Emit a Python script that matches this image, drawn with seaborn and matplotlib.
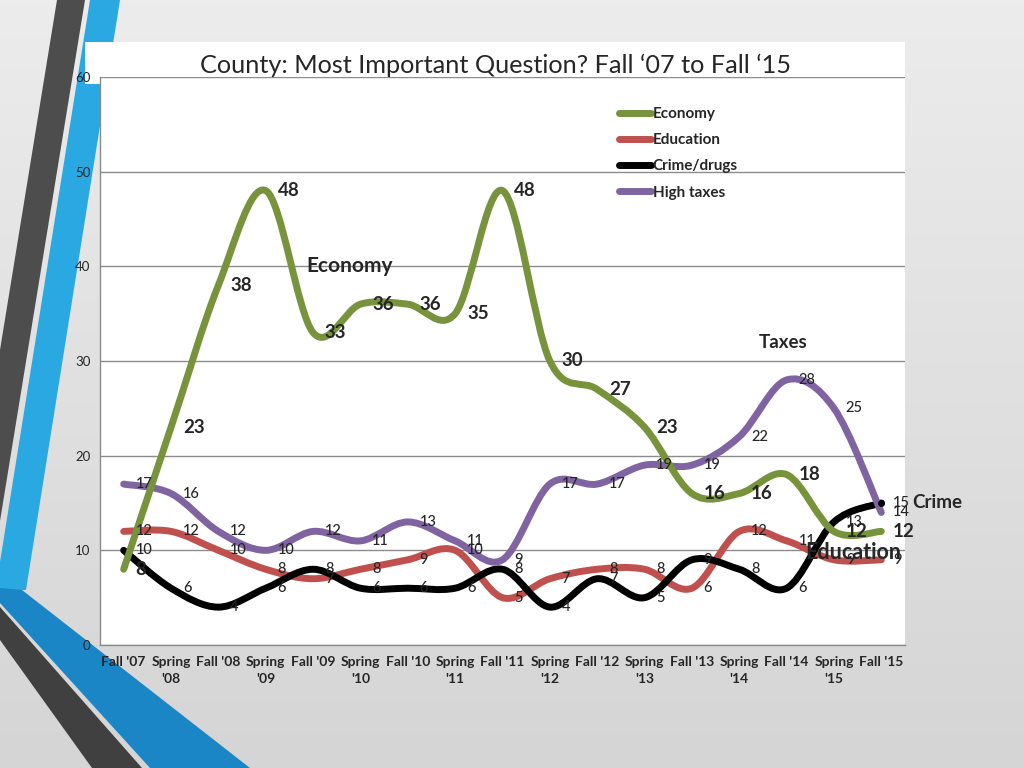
import numpy as np
import matplotlib
matplotlib.use("Agg")
import matplotlib.pyplot as plt
from matplotlib.path import Path
from matplotlib.patches import PathPatch, Polygon, Rectangle
from matplotlib.lines import Line2D
import seaborn as sns

# Data
periods = ["Fall '07", "Spring\n'08", "Fall '08", "Spring\n'09", "Fall '09", "Spring\n'10",
           "Fall '10", "Spring\n'11", "Fall '11", "Spring\n'12", "Fall '12", "Spring\n'13",
           "Fall '13", "Spring\n'14", "Fall '14", "Spring\n'15", "Fall '15"]
economy = [8, 23, 38, 48, 33, 36, 36, 35, 48, 30, 27, 23, 16, 16, 18, 12, 12]
education = [12, 12, 10, 8, 7, 8, 9, 10, 5, 7, 8, 8, 6, 12, 11, 9, 9]
crime = [10, 6, 4, 6, 8, 6, 6, 6, 8, 4, 7, 5, 9, 8, 6, 13, 15]
taxes = [17, 16, 12, 10, 12, 11, 13, 11, 9, 17, 17, 19, 19, 22, 28, 25, 14]

series_names = ["Economy", "Education", "Crime/drugs", "High taxes"]
series_colors = ["#77933C", "#C0504D", "#000000", "#8064A2"]

sns.set_theme(style="white")
plt.rcParams['font.family'] = ['Lato', 'DejaVu Sans']

W, H = 1024, 768
fig = plt.figure(figsize=(W / 100, H / 100), dpi=100)


def fx(x):
    return x / W


def fy(y):
    return 1 - y / H


# slide background
bg = fig.add_axes([0, 0, 1, 1], zorder=-10)
grad = np.linspace(0, 1, 256)[:, None] * np.ones((1, 2))
bg.imshow(grad, cmap=matplotlib.colors.LinearSegmentedColormap.from_list("g", ["#ececec", "#d5d5d5"]),
          aspect="auto", extent=[0, 1, 0, 1])
bg.set_xlim(0, 1)
bg.set_ylim(0, 1)
bg.axis("off")


def poly(pts, color):
    bg.add_patch(Polygon([(fx(a), fy(b)) for a, b in pts], closed=True, color=color, lw=0))


poly([(57, 0), (85, 0), (0, 521), (0, 350)], "#4d4d4d")
poly([(90, 0), (120, 0), (26, 590), (0, 590), (0, 562)], "#2aa8e2")
poly([(0, 588), (22, 590), (250, 768), (150, 768), (0, 603)], "#1a86c6")
poly([(0, 607), (142, 768), (92, 768), (0, 640)], "#404040")
bg.add_patch(Rectangle((fx(85), fy(84)), fx(905) - fx(85), fy(42) - fy(84), color="white", lw=0))

# plot area
ax = fig.add_axes([fx(100), fy(645), fx(905) - fx(100), fy(77) - fy(645)])
ax.set_facecolor("white")
ax.set_xlim(-0.5, len(periods) - 0.5)
ax.set_ylim(0, 60)
ax.set_yticks(range(0, 61, 10))
ax.yaxis.grid(True, color="#8c8c8c", lw=1)
ax.set_axisbelow(True)
for s in ["top", "right"]:
    ax.spines[s].set_visible(False)
for s in ["left", "bottom"]:
    ax.spines[s].set_color("#8c8c8c")
    ax.spines[s].set_linewidth(1)

x = np.arange(len(periods))
ax.set_xticks(x)
ax.set_xticklabels(periods, fontsize=10, fontweight="bold", linespacing=1.45)
ax.set_xticks(np.arange(-0.5, len(periods), 1), minor=True)
ax.tick_params(axis="x", which="major", length=0, pad=8)
ax.tick_params(axis="x", which="minor", length=5, color="#8c8c8c", direction="out")
ax.tick_params(axis="y", length=5, color="#8c8c8c", direction="out", labelsize=9.5, pad=2)


def smooth_path(xs, ys):
    pts = np.column_stack([xs, ys]).astype(float)
    n = len(pts)
    verts = [pts[0]]
    codes = [Path.MOVETO]
    for i in range(n - 1):
        p0 = pts[i - 1] if i > 0 else pts[i]
        p1, p2 = pts[i], pts[i + 1]
        p3 = pts[i + 2] if i + 2 < n else pts[i + 1]
        verts += [p1 + (p2 - p0) / 6, p2 - (p3 - p1) / 6, p2]
        codes += [Path.CURVE4] * 3
    return Path(verts, codes)


all_series = [economy, education, crime, taxes]
zorders = [6, 3, 4, 5]
for vals, col, z in zip(all_series, series_colors, zorders):
    ax.add_patch(PathPatch(smooth_path(x, vals), fill=False, edgecolor=col, lw=5,
                           capstyle="round", joinstyle="round", zorder=z))
ax.plot(x[-1], crime[-1], "o", color="black", ms=4, zorder=7)

# data labels to the right of each point
for vals, name in zip(all_series, series_names):
    bold = name == "Economy"
    for xi, v in zip(x, vals):
        ax.annotate(str(v), (xi, v), xytext=(8.5, 0), textcoords="offset points",
                    ha="left", va="center", fontsize=13.5 if bold else 10.5,
                    fontweight="bold" if bold else "medium", zorder=10, annotation_clip=False)

# series call-outs
ax.text(4.78, 40.0, "Economy", ha="center", va="center", fontsize=15, fontweight="bold", zorder=10)
ax.text(13.92, 32.0, "Taxes", ha="center", va="center", fontsize=13.5, fontweight="bold", zorder=10)
ax.text(17.18, 15.0, "Crime", ha="center", va="center", fontsize=13.5, fontweight="bold", zorder=10, clip_on=False)
ax.text(15.4, 9.8, "Education", ha="center", va="center", fontsize=15.5, fontweight="bold", zorder=10, clip_on=False)

handles = [Line2D([], [], color=c, lw=5, solid_capstyle="round") for c in series_colors]
fig.legend(handles, series_names, loc="upper left", bbox_to_anchor=(fx(619), fy(107)),
           frameon=False, prop={"weight": "bold", "size": 11}, handlelength=2.1,
           handletextpad=0.1, labelspacing=0.8, borderpad=0, borderaxespad=0)

fig.text(fx(495), fy(65), "County: Most Important Question? Fall \u201807 to Fall \u201815",
         ha="center", va="center", fontsize=18.2)

fig.savefig("out.png", dpi=100)
